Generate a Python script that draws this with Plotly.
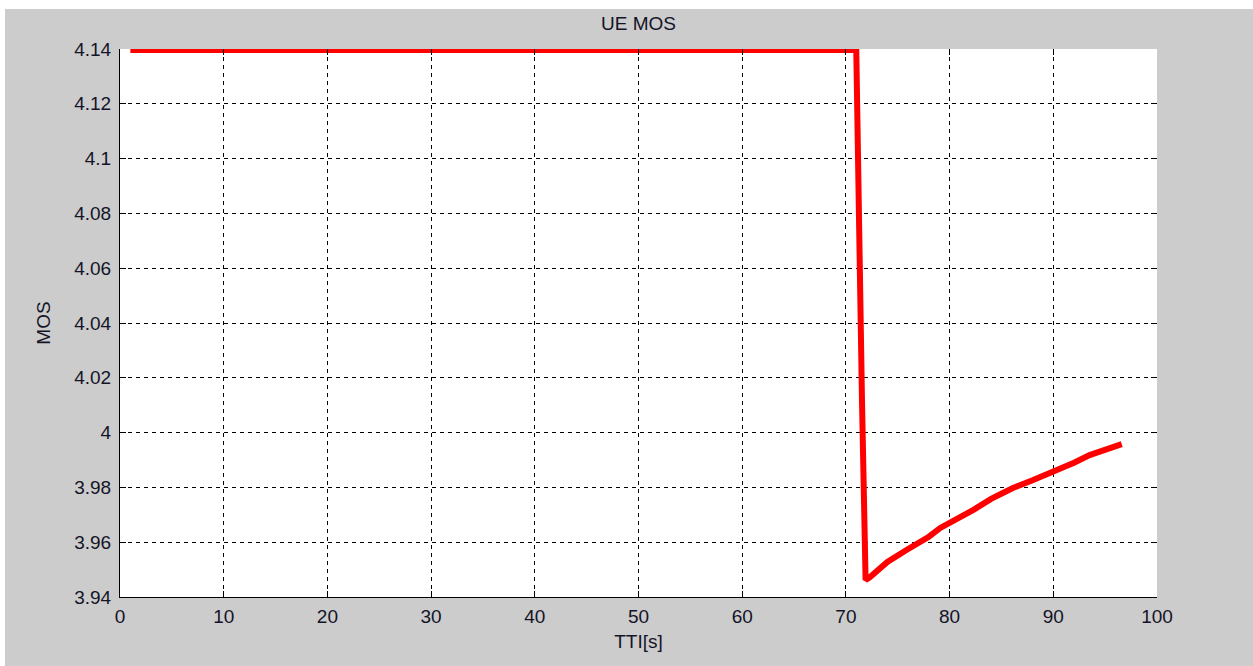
import plotly.graph_objects as go

# Data
tti = [1, 71.0, 71.55, 71.75, 71.9, 72.3, 74.0, 76.0, 78.0, 79.1, 80.3, 82.3, 84.0, 86.1, 88.0, 90.0, 92.0, 93.5, 95.0, 96.6]
mos = [4.1396, 4.1396, 4.012, 3.979, 3.9462, 3.9472, 3.9528, 3.9575, 3.9620, 3.9652, 3.9675, 3.9718, 3.9758, 3.9798, 3.9826, 3.9856, 3.9890, 3.9918, 3.9938, 3.9958]

x_ticks = [0, 10, 20, 30, 40, 50, 60, 70, 80, 90, 100]
y_ticks = [3.94, 3.96, 3.98, 4.00, 4.02, 4.04, 4.06, 4.08, 4.10, 4.12, 4.14]
y_labels = ["3.94", "3.96", "3.98", "4", "4.02", "4.04", "4.06", "4.08", "4.1", "4.12", "4.14"]

W, H = 1253, 666
L, R, T, B = 120, 1157, 49, 597
pw, ph = R - L, B - T

font = dict(family="Liberation Sans, Arial, sans-serif", size=19, color="#141428")

fig = go.Figure()
fig.add_trace(go.Scatter(x=tti, y=mos, mode="lines",
                         line=dict(color="#ff0000", width=6),
                         showlegend=False, hoverinfo="x+y"))
# invisible trace on mirrored axes (for top/right ticks)
fig.add_trace(go.Scatter(x=[tti[0]], y=[mos[0]], xaxis="x2", yaxis="y2", mode="markers",
                         marker=dict(opacity=0), showlegend=False, hoverinfo="skip"))

axis_common = dict(ticks="inside", ticklen=6, tickcolor="#000000", tickwidth=1,
                   showline=True, linecolor="#000000", linewidth=1,
                   showgrid=True, gridcolor="#000000", gridwidth=1, griddash="4px,4px",
                   zeroline=False, tickfont=font)

fig.update_layout(
    width=W, height=H,
    margin=dict(l=L, r=W - R, t=T, b=H - B, pad=0),
    paper_bgcolor="#cccccc", plot_bgcolor="#ffffff",
    title=dict(text="UE MOS", x=(L + R) / 2 / W, xanchor="center",
               y=1 - 23 / H, yanchor="middle", font=font),
    xaxis=dict(range=[0, 100], tickvals=x_ticks, ticktext=[str(v) for v in x_ticks],
               ticklabelstandoff=2,
               title=dict(text="TTI[s]", font=font, standoff=8), **axis_common),
    yaxis=dict(range=[3.94, 4.14], tickvals=y_ticks, ticktext=y_labels,
               ticklabelstandoff=4,
               title=dict(text="MOS", font=font, standoff=18), **axis_common),
    xaxis2=dict(range=[0, 100], overlaying="x", side="top", tickvals=x_ticks,
                ticks="inside", ticklen=6, tickcolor="#000000", showticklabels=False,
                showgrid=False, zeroline=False, showline=False),
    yaxis2=dict(range=[3.94, 4.14], overlaying="y", side="right", tickvals=y_ticks,
                ticks="inside", ticklen=6, tickcolor="#000000", showticklabels=False,
                showgrid=False, zeroline=False, showline=False),
    shapes=[
        # white strips at the top and left edges of the window
        dict(type="rect", xref="paper", yref="paper",
             x0=(0 - L) / pw, x1=(W - L) / pw, y0=(B - 9) / ph, y1=(B - 0) / ph,
             fillcolor="#ffffff", line=dict(width=0), layer="above"),
        dict(type="rect", xref="paper", yref="paper",
             x0=(0 - L) / pw, x1=(5 - L) / pw, y0=(B - H) / ph, y1=(B - 0) / ph,
             fillcolor="#ffffff", line=dict(width=0), layer="above"),
    ],
)

fig.write_html("out.html")
